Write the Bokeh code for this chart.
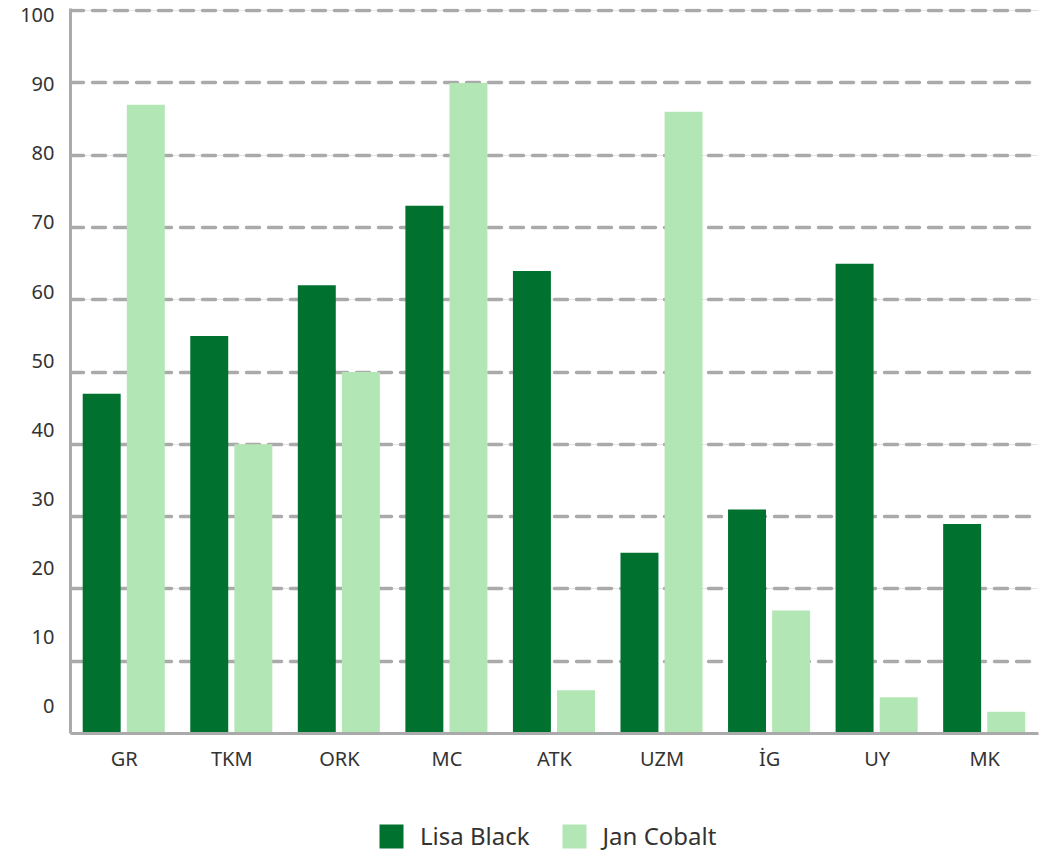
from bokeh.plotting import figure
from bokeh.layouts import column
from bokeh.models import (FactorRange, Range1d, LinearAxis, FixedTicker, Grid,
                          Legend, LegendItem, ColumnDataSource)
from bokeh.transform import dodge
from bokeh.embed import file_html
from bokeh.resources import INLINE

categories = ["GR", "TKM", "ORK", "MC", "ATK", "UZM", "İG", "UY", "MK"]
lisa_black = [47, 55, 62, 73, 64, 25, 31, 65, 29]
jan_cobalt = [87, 40, 50, 90, 6, 86, 17, 5, 3]
y_ticks = [0, 10, 20, 30, 40, 50, 60, 70, 80, 90, 100]
series_names = ["Lisa Black", "Jan Cobalt"]

FONT = "Noto Sans"
TXT = "#333333"
GRAY = "#AAAAAA"
DARK = "#00712F"
LIGHT = "#B3E6B5"

src = ColumnDataSource(dict(cat=categories, lisa=lisa_black, jan=jan_cobalt))

p = figure(x_range=FactorRange(*categories), y_range=Range1d(0, 100.3),
           frame_width=968, frame_height=725,
           min_border_left=70, min_border_top=8, min_border_right=10,
           min_border_bottom=40,
           output_backend="svg", toolbar_location=None, y_axis_location=None)

p.outline_line_color = None
p.xgrid.visible = False

grid = Grid(dimension=1, ticker=FixedTicker(ticks=y_ticks),
            grid_line_color=GRAY, grid_line_width=3.5,
            grid_line_dash="13 9", grid_line_cap="round")
p.add_layout(grid, "center")

r1 = p.vbar(x=dodge("cat", -0.21, range=p.x_range), top="lisa", width=0.353,
            source=src, fill_color=DARK, line_color=None)
r2 = p.vbar(x=dodge("cat", 0.2, range=p.x_range), top="jan", width=0.353,
            source=src, fill_color=LIGHT, line_color=None)

# tick labels axis (labels are spaced slightly tighter than the gridlines)
p.extra_y_ranges = {"lab": Range1d(-3.905, 100.94)}
ax = LinearAxis(y_range_name="lab", ticker=FixedTicker(ticks=y_ticks),
                axis_line_color=GRAY, axis_line_width=3,
                major_tick_line_color=None, minor_tick_line_color=None,
                major_label_standoff=10,
                major_label_text_font=FONT, major_label_text_font_size="20px",
                major_label_text_color=TXT)
p.add_layout(ax, "left")

xa = p.xaxis[0]
xa.axis_line_color = GRAY
xa.axis_line_width = 3
xa.major_tick_line_color = None
xa.minor_tick_line_color = None
xa.major_label_standoff = 5
xa.major_label_text_font = FONT
xa.major_label_text_font_size = "20px"
xa.major_label_text_color = TXT

# legend strip below the chart (swatch renderers sit outside its visible range)
lf = figure(frame_width=968, frame_height=80, x_range=Range1d(0, 1),
            y_range=Range1d(0, 1),
            min_border_left=70, min_border_right=10, min_border_top=0,
            min_border_bottom=0,
            output_backend="svg", toolbar_location=None,
            x_axis_location=None, y_axis_location=None)
lf.outline_line_color = None
lf.xgrid.visible = False
lf.ygrid.visible = False
swatch = ColumnDataSource(dict(x=[-5], top=[-5]))
l1 = lf.vbar(x="x", top="top", width=0.1, source=swatch,
             fill_color=DARK, line_color=None)
l2 = lf.vbar(x="x", top="top", width=0.1, source=swatch,
             fill_color=LIGHT, line_color=None)

legend = Legend(items=[LegendItem(label=series_names[0], renderers=[l1]),
                       LegendItem(label=series_names[1], renderers=[l2])],
                location=(306, 2), orientation="horizontal",
                glyph_width=30, glyph_height=30, label_height=30,
                padding=0, margin=0, spacing=29, label_standoff=14,
                label_text_font=FONT, label_text_font_size="24px",
                label_text_color=TXT,
                border_line_color=None, background_fill_alpha=0)
lf.add_layout(legend, "center")

layout = column(p, lf, spacing=0)
open("out.html", "w").write(file_html(layout, INLINE))
